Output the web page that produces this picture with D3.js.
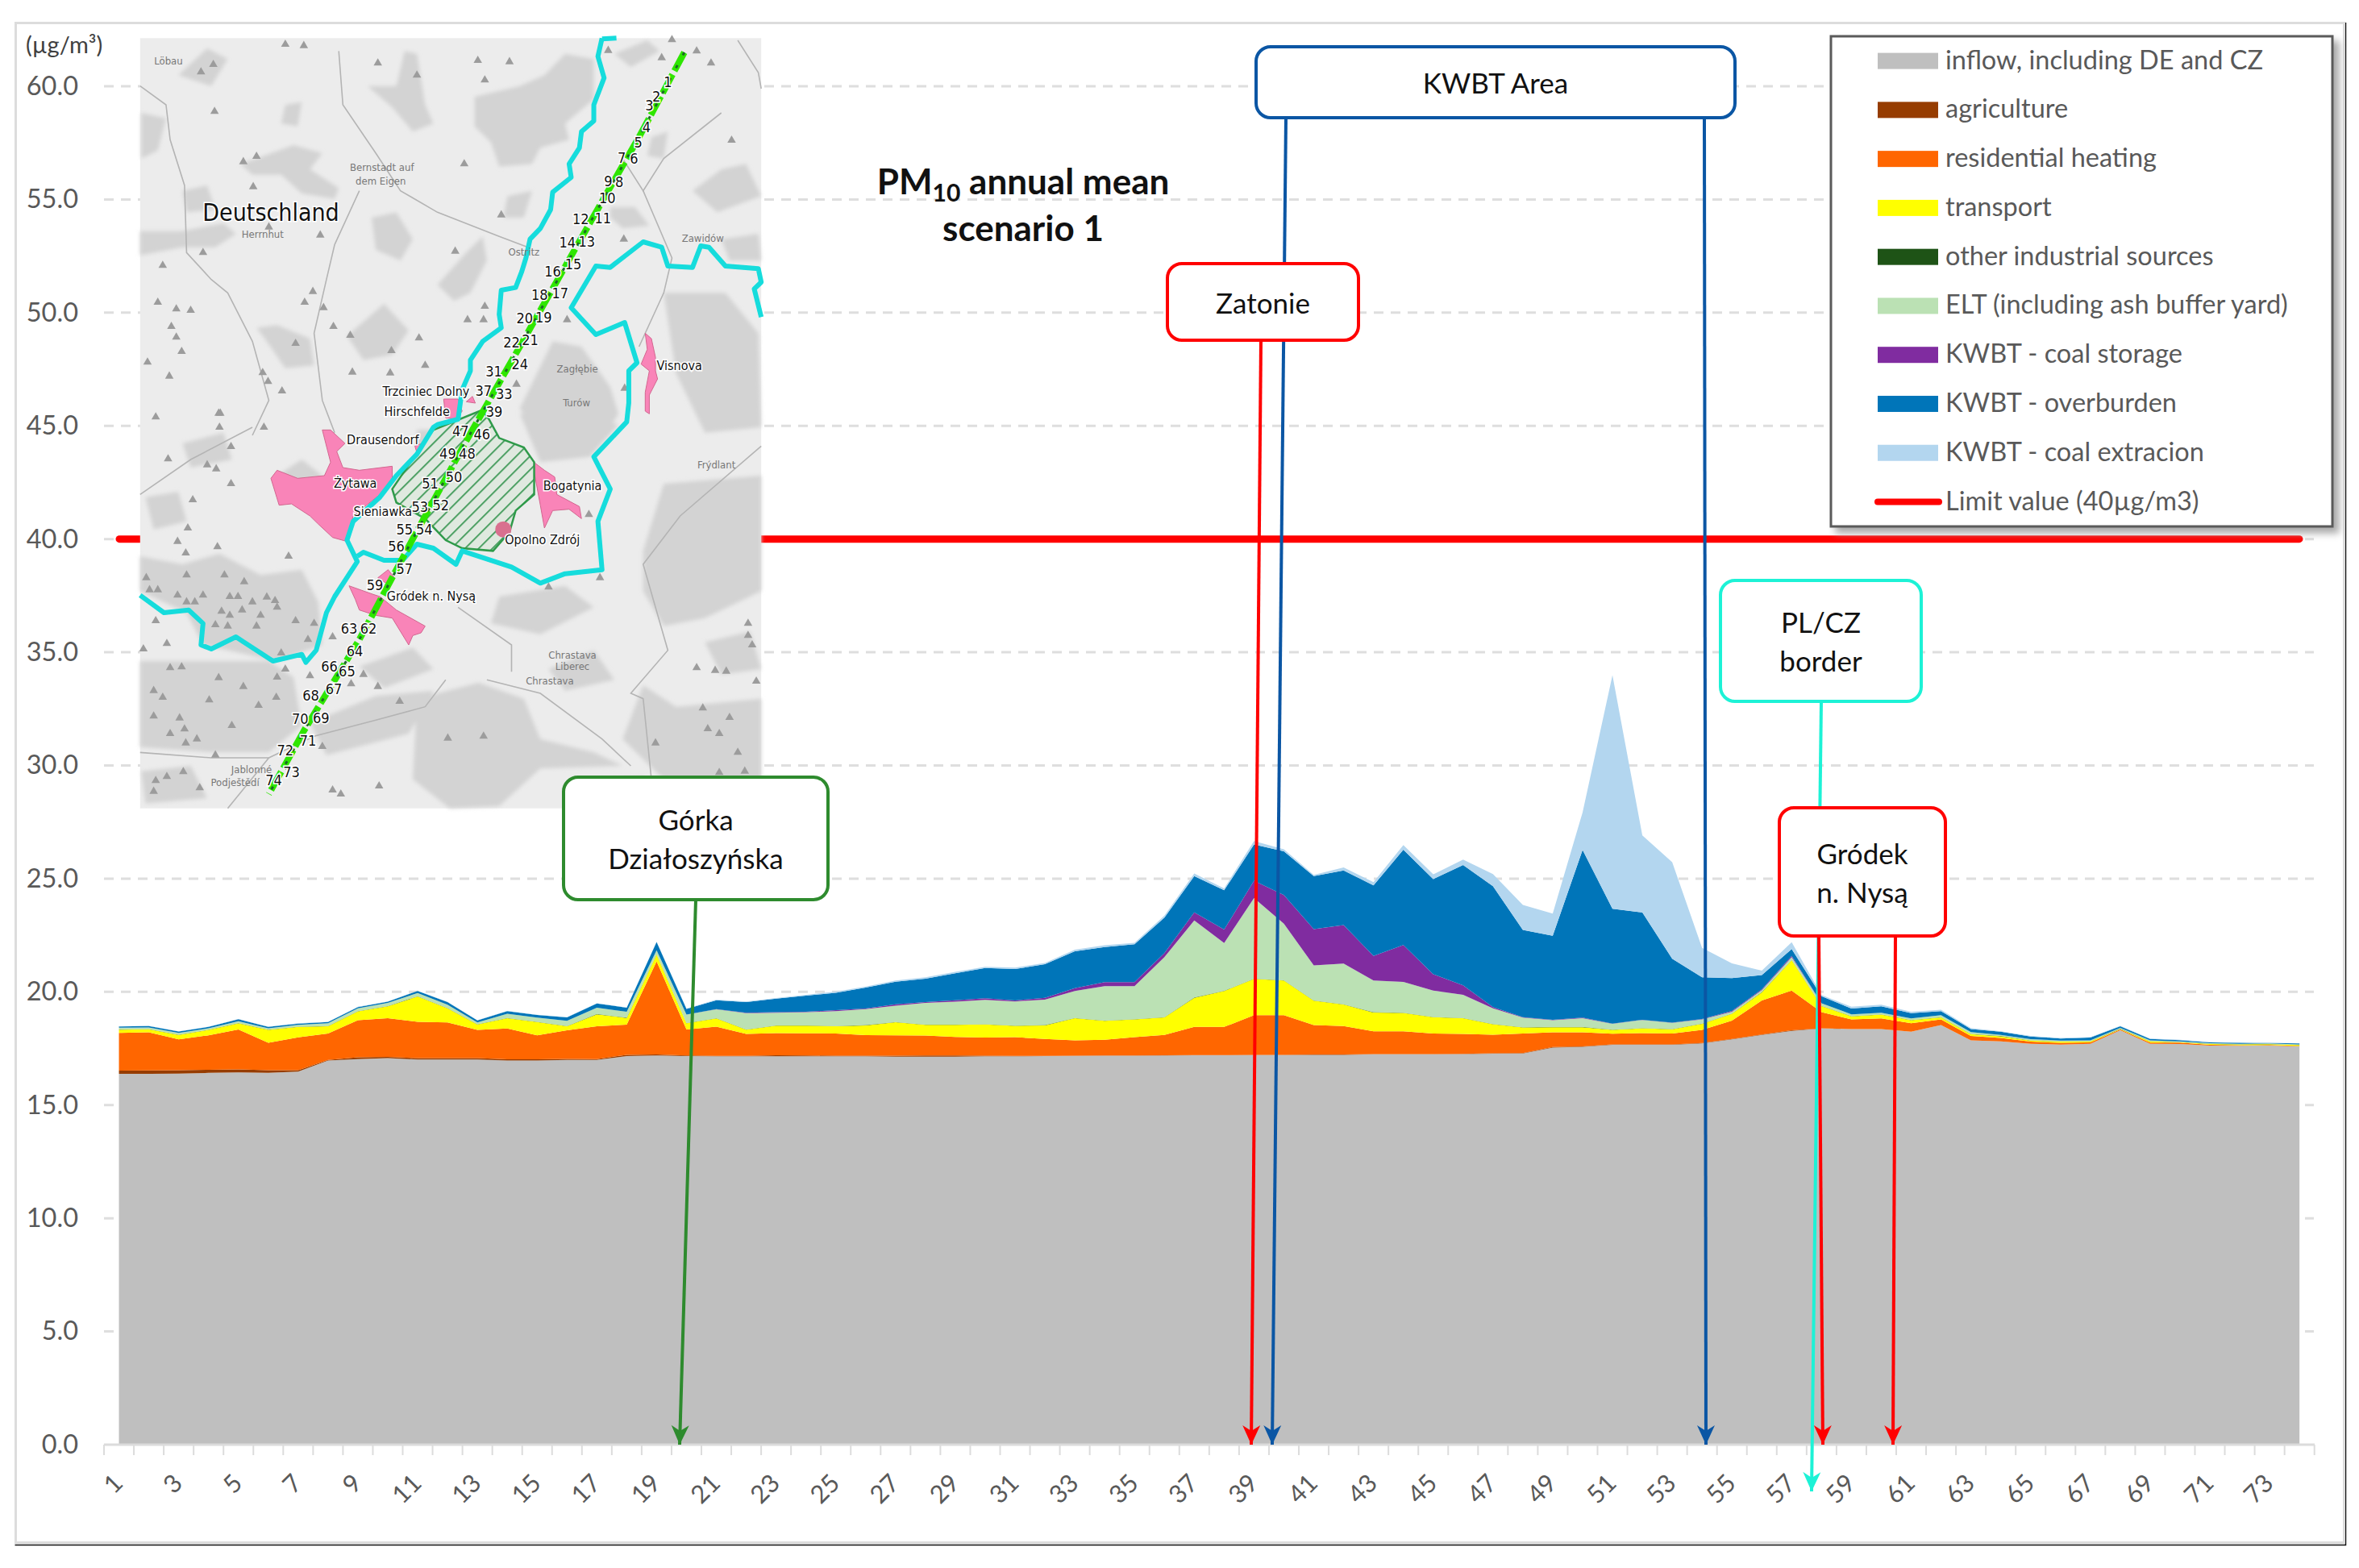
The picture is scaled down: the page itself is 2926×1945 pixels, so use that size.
<!DOCTYPE html>
<html>
<head>
<meta charset="utf-8">
<title>PM10 annual mean scenario 1</title>
<script src="https://cdnjs.cloudflare.com/ajax/libs/d3/7.8.5/d3.min.js"></script>
<style>
    html, body { margin: 0; padding: 0; background: #fff; }
    svg { display: block; }
    text { font-family: Lato, "Open Sans", sans-serif; }
    .maplabel { font-family: "DejaVu Sans Condensed", "DejaVu Sans", sans-serif; paint-order: stroke; stroke: #fff; stroke-width: 3px; text-anchor: middle; dominant-baseline: middle; fill: #111; }
    .mapfaint { font-family: "DejaVu Sans Condensed", "DejaVu Sans", sans-serif; text-anchor: middle; dominant-baseline: middle; fill: #777; font-size: 13px; }
</style>
</head>
<body>
<script>
// Receptor points along the cross section
var categories = d3.range(1, 75);

var tickLabels = [1, 3, 5, 7, 9, 11, 13, 15, 17, 19, 21, 23, 25, 27, 29, 31, 33, 35, 37,
    39, 41, 43, 45, 47, 49, 51, 53, 55, 57, 59, 61, 63, 65, 67, 69, 71, 73];

var yTicks = [0, 5, 10, 15, 20, 25, 30, 35, 40, 45, 50, 55, 60];

var inflow = [
    16.38, 16.38, 16.39, 16.42, 16.44, 16.42, 16.48, 16.97, 17.03, 17.07,
    17.01, 17.01, 17.01, 16.97, 16.97, 16.99, 16.99, 17.16, 17.19, 17.16,
    17.15, 17.15, 17.15, 17.15, 17.15, 17.15, 17.14, 17.14, 17.14, 17.15,
    17.15, 17.16, 17.17, 17.18, 17.18, 17.19, 17.20, 17.20, 17.21, 17.21,
    17.22, 17.22, 17.24, 17.24, 17.24, 17.25, 17.27, 17.28, 17.54, 17.57,
    17.66, 17.66, 17.66, 17.72, 17.90, 18.10, 18.28, 18.38, 18.36, 18.36,
    18.24, 18.53, 17.86, 17.81, 17.71, 17.67, 17.71, 18.30, 17.71, 17.70,
    17.63, 17.62, 17.63, 17.59];

var agriculture = [
    0.14, 0.15, 0.15, 0.14, 0.14, 0.12, 0.06, 0.02, 0.08, 0.06,
    0.06, 0.06, 0.06, 0.05, 0.05, 0.05, 0.04, 0.06, 0.04, 0.03,
    0.02, 0.02, 0.05, 0.04, 0.03, 0.03, 0.04, 0.05, 0.05, 0.03,
    0.02, 0.01, 0.01, 0.01, 0.01, 0.01, 0.01, 0.01, 0.01, 0.01,
    0.01, 0.01, 0.01, 0.01, 0.01, 0.01, 0.02, 0.02, 0.02, 0.02,
    0.02, 0.02, 0.02, 0.02, 0.02, 0.02, 0.02, 0.01, 0, 0,
    0, 0, 0, 0, 0, 0, 0, 0, 0, 0,
    0, 0, 0, 0];

var residential = [
    1.67, 1.68, 1.36, 1.52, 1.76, 1.21, 1.45, 1.17, 1.64, 1.71,
    1.61, 1.58, 1.25, 1.36, 1.06, 1.26, 1.45, 1.33, 4.12, 1.15,
    1.29, 0.97, 0.98, 0.98, 0.98, 0.91, 0.90, 0.88, 0.82, 0.80,
    0.83, 0.75, 0.68, 0.69, 0.81, 0.90, 1.24, 1.24, 1.75, 1.75,
    1.30, 1.26, 1.01, 1.01, 0.91, 0.88, 0.82, 0.86, 0.65, 0.62,
    0.47, 0.50, 0.48, 0.58, 0.81, 1.50, 1.76, 0.71, 0.42, 0.47,
    0.37, 0.25, 0.19, 0.15, 0.09, 0.08, 0.06, 0.04, 0.05, 0.06,
    0.03, 0.02, 0.02, 0.02];

var transport = [
    0.14, 0.14, 0.20, 0.24, 0.27, 0.57, 0.46, 0.32, 0.39, 0.52,
    1.12, 0.62, 0.24, 0.46, 0.59, 0.18, 0.53, 0.30, 0.30, 0.27,
    0.37, 0.19, 0.33, 0.34, 0.32, 0.43, 0.58, 0.47, 0.53, 0.58,
    0.50, 0.60, 0.98, 0.84, 0.78, 0.77, 1.29, 1.59, 1.60, 1.53,
    1.08, 0.95, 0.83, 0.81, 0.72, 0.70, 0.46, 0.27, 0.23, 0.23,
    0.17, 0.21, 0.19, 0.27, 0.30, 0.36, 1.34, 0.27, 0.14, 0.17,
    0.14, 0.09, 0.08, 0.08, 0.05, 0.05, 0.04, 0.02, 0.05, 0.02,
    0.04, 0.04, 0.04, 0.04];

var otherIndustrial = [
    0.01, 0.01, 0.01, 0.01, 0.01, 0.01, 0.01, 0.01, 0.01, 0.01,
    0.01, 0.01, 0.01, 0.01, 0.01, 0.01, 0.01, 0.01, 0.01, 0.01,
    0.01, 0.01, 0.01, 0.01, 0.01, 0.01, 0.01, 0.01, 0.01, 0.01,
    0.01, 0.01, 0.01, 0.01, 0.01, 0.01, 0.01, 0.01, 0.01, 0.01,
    0.01, 0.01, 0.01, 0.01, 0.01, 0.01, 0.01, 0.01, 0.01, 0.01,
    0.01, 0.01, 0.01, 0.01, 0.01, 0.01, 0.01, 0.01, 0.01, 0.01,
    0.01, 0.01, 0.01, 0.01, 0.01, 0.01, 0.01, 0.01, 0.01, 0.01,
    0.01, 0.01, 0.01, 0.01];

var elt = [
    0.08, 0.07, 0.08, 0.06, 0.08, 0.06, 0.08, 0.12, 0.12, 0.14,
    0.14, 0.15, 0.08, 0.18, 0.18, 0.23, 0.28, 0.26, 0.18, 0.38,
    0.39, 0.72, 0.56, 0.58, 0.66, 0.71, 0.72, 0.96, 1.02, 1.08,
    1.07, 1.13, 1.19, 1.52, 1.46, 2.65, 3.40, 2.11, 3.56, 2.50,
    1.55, 1.80, 1.40, 1.36, 1.17, 1.02, 0.69, 0.42, 0.30, 0.39,
    0.26, 0.36, 0.27, 0.18, 0.08, 0.08, 0.12, 0.12, 0.08, 0.07,
    0.07, 0.09, 0.08, 0.05, 0.05, 0.04, 0.04, 0.04, 0.04, 0.02,
    0.02, 0.02, 0.02, 0.02];

var coalStorage = [
    0, 0, 0, 0, 0, 0, 0, 0, 0, 0,
    0, 0, 0, 0, 0, 0, 0, 0, 0, 0,
    0.01, 0.02, 0.02, 0.02, 0.04, 0.02, 0.06, 0.04, 0.06, 0.07,
    0.04, 0.08, 0.12, 0.18, 0.18, 0.18, 0.36, 0.59, 0.77, 1.27,
    1.60, 1.70, 1.09, 1.63, 0.72, 0.42, 0.06, 0.02, 0.02, 0.02,
    0.01, 0.01, 0.01, 0.02, 0.04, 0.04, 0.06, 0, 0, 0,
    0, 0, 0, 0, 0, 0, 0, 0, 0, 0,
    0, 0, 0, 0];

var overburden = [
    0.05, 0.06, 0.06, 0.06, 0.09, 0.06, 0.06, 0.06, 0.06, 0.06,
    0.09, 0.12, 0.09, 0.12, 0.12, 0.15, 0.19, 0.18, 0.36, 0.25,
    0.39, 0.47, 0.60, 0.71, 0.77, 0.93, 1.00, 1.03, 1.19, 1.33,
    1.39, 1.48, 1.63, 1.55, 1.67, 1.57, 1.60, 1.74, 1.60, 1.93,
    2.34, 2.41, 3.11, 4.21, 4.20, 5.31, 5.34, 3.86, 3.71, 7.41,
    5.07, 4.74, 2.82, 1.84, 1.45, 0.63, 0.30, 0.31, 0.25, 0.28,
    0.23, 0.18, 0.14, 0.14, 0.12, 0.09, 0.12, 0.07, 0.06, 0.06,
    0.04, 0.04, 0.02, 0.04];

var coalExtraction = [
    0.01, 0.01, 0.01, 0.01, 0.01, 0.01, 0.01, 0.01, 0.01, 0.01,
    0.01, 0.01, 0.01, 0.01, 0.01, 0.01, 0.01, 0.01, 0.01, 0.01,
    0.03, 0.03, 0.03, 0.04, 0.05, 0.04, 0.05, 0.06, 0.06, 0.06,
    0.06, 0.06, 0.07, 0.08, 0.07, 0.09, 0.12, 0.08, 0.15, 0.09,
    0.06, 0.14, 0.15, 0.20, 0.21, 0.24, 0.53, 1.10, 0.98, 1.66,
    10.32, 3.40, 4.27, 1.30, 0.65, 0.20, 0.30, 0.05, 0.08, 0.07,
    0.06, 0.06, 0.04, 0.02, 0.02, 0.02, 0.02, 0.02, 0.02, 0.01,
    0.01, 0.01, 0.01, 0.01];

var limitValue = 40;

var seriesNames = ["inflow, including DE and CZ", "agriculture", "residential heating", "transport",
    "other industrial sources", "ELT (including ash buffer yard)", "KWBT - coal storage",
    "KWBT - overburden", "KWBT - coal extracion"];
var seriesValues = [inflow, agriculture, residential, transport, otherIndustrial, elt,
    coalStorage, overburden, coalExtraction];
var seriesColors = ["#bfbfbf", "#963c00", "#ff6600", "#ffff00", "#1e5316", "#bbe1b4",
    "#802ca0", "#0075b9", "#b3d6ef"];

// Map pieces, in the coordinates of the two map crops. low() shifts the lower crop.
function low(pts) { return pts.map(function (p) { return [p[0], p[1] + 1410].concat(p.slice(2)); }); }

var mapPatches = [
    [[950, 230], [1010, 190], [1060, 110], [1130, 130], [1130, 280], [1060, 370], [1070, 430], [1000, 460], [980, 520], [900, 530], [880, 440], [840, 380], [840, 270]],
    [[580, 230], [650, 230], [670, 100], [700, 110], [720, 300], [740, 370], [690, 400], [640, 310]],
    [[270, 520], [310, 500], [400, 450], [470, 480], [440, 540], [510, 610], [500, 650], [420, 630], [370, 560], [300, 560]],
    [[27, 770], [130, 770], [230, 740], [260, 780], [210, 830], [130, 830], [27, 860]],
    [[590, 720], [650, 700], [690, 800], [660, 880], [600, 840]],
    [[750, 970], [820, 850], [860, 790], [870, 880], [830, 1000], [790, 1030]],
    [[310, 1130], [360, 1120], [440, 1170], [450, 1270], [380, 1280], [330, 1170]],
    [[530, 1160], [620, 1040], [680, 1140], [640, 1230], [570, 1250]],
    [[1030, 1180], [1100, 1200], [1170, 1350], [1190, 1450], [1150, 1550], [1000, 1530], [950, 1430]],
    [[1300, 1000], [1450, 1000], [1530, 1150], [1537, 1500], [1400, 1520], [1330, 1300]],
    [[1170, 680], [1230, 680], [1265, 750], [1200, 760], [1170, 720]],
    [[1440, 540], [1500, 520], [1537, 640], [1430, 700], [1370, 620]],
    [[190, 90], [240, 130], [200, 230], [120, 190]],
    [[1250, 1960], [1300, 1710], [1537, 1680], [1537, 2110], [1400, 2210], [1300, 2240], [1250, 2110]],
    [[700, 2510], [850, 2450], [960, 2510], [1000, 2660], [1130, 2710], [1200, 2760], [1000, 2770], [900, 2910], [780, 2918], [690, 2810]],
    [[27, 1980], [130, 2010], [220, 1970], [320, 2050], [420, 2030], [460, 2150], [470, 2310], [360, 2370], [180, 2310], [140, 2190], [27, 2110]],
    [[27, 2370], [340, 2370], [400, 2430], [420, 2610], [340, 2710], [200, 2710], [27, 2690]],
    [[1250, 2460], [1330, 2540], [1537, 2510], [1537, 2810], [1300, 2810], [1200, 2660]],
    [[950, 1450], [1130, 1470], [1190, 1490], [1120, 1610], [1000, 1630]],
    [[440, 2600], [600, 2500], [740, 2480], [680, 2640], [480, 2720]],
    // smaller wood patches
    [[30, 330], [90, 350], [70, 470], [30, 500]],
    [[130, 620], [190, 600], [210, 690], [140, 700]],
    [[380, 300], [420, 290], [410, 380], [370, 370]],
    [[920, 640], [980, 620], [960, 720], [910, 720]],
    [[1180, 110], [1260, 60], [1290, 100], [1220, 160]],
    [[1270, 420], [1310, 400], [1300, 500], [1260, 490]],
    [[1440, 800], [1530, 780], [1537, 880], [1460, 880]],
    [[130, 1560], [230, 1520], [250, 1620], [150, 1650]],
    [[360, 1680], [420, 1620], [470, 1680], [420, 1740]],
    [[700, 1510], [790, 1510], [760, 1600], [700, 1580]],
    [[40, 1760], [120, 1740], [140, 1850], [60, 1880]],
    [[900, 2130], [1060, 2090], [1130, 2170], [1000, 2270], [880, 2230]],
    [[1020, 2400], [1130, 2330], [1180, 2440], [1060, 2480]],
    [[560, 2390], [690, 2320], [740, 2400], [620, 2470]],
    [[1400, 2300], [1510, 2260], [1537, 2400], [1440, 2420]],
    [[1100, 2820], [1250, 2800], [1300, 2918], [1120, 2918]],
    [[30, 2780], [150, 2760], [190, 2880], [40, 2900]]
];

var mapRoads = [
    [[27, 230], [90, 300], [100, 430], [135, 600], [140, 850], [200, 950], [240, 1000], [300, 1180], [340, 1400], [300, 1530]],
    [[510, 100], [520, 300], [600, 480], [660, 620], [750, 700], [900, 790], [970, 830]],
    [[560, 620], [500, 820], [480, 950], [450, 1150], [470, 1400], [500, 1520]],
    [[1480, 60], [1530, 180], [1537, 240]],
    [[1537, 1570], [1340, 1830], [1250, 2010], [1310, 2330], [1220, 2490], [1250, 2510], [1270, 2810]],
    [[1440, 330], [1300, 500], [1250, 620], [1200, 500]],
    [[1250, 620], [1320, 870], [1300, 1000], [1240, 1200]],
    [[870, 2440], [1000, 2490], [1150, 2660], [1220, 2760]],
    [[770, 2440], [720, 2540], [600, 2590], [450, 2650], [340, 2730]],
    [[27, 2710], [200, 2730], [340, 2730], [240, 2918]],
    [[800, 2170], [930, 2310], [930, 2410]],
    [[27, 1750], [150, 1620], [300, 1500]]
];

var mapTriangles = [
    [380, 75], [425, 80], [205, 150], [175, 178], [605, 145], [848, 135], [925, 140], [700, 190], [865, 208], [1165, 98],
    [1295, 125], [1380, 100], [1415, 145], [1320, 58], [1465, 432], [208, 325], [310, 492], [278, 512], [302, 605], [815, 520],
    [905, 710], [180, 850], [82, 898], [340, 755], [465, 785], [793, 845], [1203, 800], [447, 995], [427, 1035], [70, 1035],
    [115, 1060], [150, 1065], [473, 1055], [865, 1050], [823, 1100], [862, 1100], [1065, 1100], [103, 1125], [115, 1165], [128, 1218],
    [497, 1125], [538, 1158], [638, 1215], [705, 1168], [405, 1188], [45, 1258], [720, 1270], [325, 1297], [338, 1330], [372, 1365],
    [98, 1310], [543, 1295], [635, 1298], [942, 1340], [1205, 1355], [222, 1448], [65, 1462], [220, 1500], [328, 1500]
].concat(low([
    [218, 38], [248, 162], [95, 208], [190, 230], [212, 245], [248, 300], [155, 360], [143, 465], [118, 515], [215, 535],
    [138, 558], [388, 570], [232, 640], [42, 650], [140, 640], [280, 665], [50, 695], [70, 695], [180, 715], [118, 715],
    [140, 740], [160, 740], [245, 720], [265, 720], [300, 740], [335, 722], [355, 735], [225, 775], [245, 790], [275, 770],
    [360, 760], [320, 790], [405, 810], [450, 820], [210, 825], [240, 830], [310, 830], [65, 810], [495, 870], [435, 880],
    [92, 895], [35, 915], [370, 930], [100, 985], [128, 982], [218, 1022], [278, 1055], [360, 1020], [380, 990], [440, 1015],
    [570, 1010], [60, 1070], [82, 1095], [195, 1105], [315, 1125], [358, 1095], [540, 1045], [605, 1055], [658, 1110], [60, 1165],
    [123, 1172], [250, 1200], [135, 1213], [100, 1230], [165, 1250], [138, 1265], [470, 1278], [210, 1310], [92, 1390], [132, 1372],
    [65, 1405], [60, 1445], [172, 1432], [608, 1425], [495, 1440], [515, 1455], [775, 1247], [862, 1240], [1020, 685], [1145, 650],
    [1118, 415], [1280, 1265], [1380, 985], [1425, 995], [1452, 998], [1525, 1035], [1505, 820], [1505, 865], [1515, 900], [1395, 1135],
    [1460, 1170], [1407, 1212], [1435, 1230], [1480, 1300], [1435, 1375], [1497, 1370]
]));

var mapTowns = [
    low([[345, 280], [360, 250], [410, 280], [475, 270], [490, 220], [470, 100], [490, 100], [525, 150], [505, 180], [520, 240], [560, 250], [640, 235], [640, 280], [610, 340], [545, 420], [530, 515], [495, 500], [460, 450], [440, 420], [395, 375], [365, 380]]),
    low([[980, 215], [1010, 250], [1035, 275], [1040, 340], [1095, 385], [1100, 430], [1070, 395], [1030, 400], [1010, 465], [1000, 380]]),
    low([[535, 680], [590, 710], [610, 720], [650, 770], [720, 830], [710, 855], [690, 865], [680, 900], [640, 800], [600, 790], [560, 770], [550, 730]]),
    low([[605, 650], [630, 620], [645, 650], [625, 670]]),
    [[765, 1395], [800, 1395], [810, 1440], [795, 1470], [770, 1465]],
    [[820, 1405], [835, 1385], [842, 1410]],
    low([[695, 160], [712, 150], [715, 185], [700, 185]]),
    [[1255, 1150], [1270, 1170], [1280, 1240], [1280, 1290], [1285, 1320], [1265, 1380], [1265, 1450], [1255, 1440], [1255, 1370], [1265, 1290], [1245, 1265], [1260, 1210]]
];

var mapMine = low([[860, 25], [875, 60], [900, 130], [960, 165], [985, 220], [985, 340], [940, 400], [925, 480], [885, 550], [810, 540], [770, 510], [720, 430], [650, 370], [640, 320], [680, 230], [740, 100]]);

var mapBorderWest = [[1150, 52], [1140, 120], [1155, 200], [1130, 300], [1130, 360], [1100, 400], [1095, 460], [1070, 520], [1075, 570], [1030, 625], [1025, 690], [1000, 760], [975, 800], [965, 870], [955, 920], [940, 980], [905, 990], [900, 1080], [905, 1130], [860, 1180], [830, 1250], [830, 1290], [810, 1360], [800, 1470], [750, 1490]].concat(low([[740, 90], [700, 190], [650, 270], [610, 350], [545, 440], [530, 510], [555, 590], [500, 720], [480, 780], [455, 920], [430, 965], [420, 935], [350, 960], [320, 930], [280, 890], [260, 870], [200, 915], [175, 900], [180, 820], [145, 770], [85, 780], [27, 715]]));
var mapBorderEast = low([[555, 570], [570, 555], [620, 585], [665, 585], [700, 525], [740, 540], [795, 600], [810, 550], [930, 610], [1000, 670], [1060, 635], [1150, 620], [1140, 440], [1170, 320], [1130, 200], [1210, 70], [1215, 0]]).concat([[1215, 1290], [1235, 1260], [1205, 1110], [1135, 1155], [1075, 1055], [1135, 900], [1170, 905], [1250, 810], [1295, 830], [1310, 900], [1370, 905], [1390, 825], [1410, 830], [1450, 900], [1530, 910], [1537, 960], [1520, 985], [1537, 1090]]);
var mapBorderHook = [[1150, 55], [1185, 52]];

var mapSection = [[1350, 105], [1240, 420], [1150, 660], [950, 1200], [820, 1550]].concat(low([[690, 505], [560, 880], [425, 1220], [340, 1455]]));

var mapNumbers = [
    ["1", 1310, 220], ["2", 1282, 272], ["3", 1265, 305], ["4", 1258, 388], ["5", 1238, 445], ["7", 1198, 500], ["6", 1228, 503],
    ["9", 1165, 588], ["8", 1192, 590], ["10", 1163, 650], ["12", 1098, 728], ["11", 1152, 725], ["14", 1066, 815], ["13", 1113, 812],
    ["15", 1080, 898], ["16", 1030, 925], ["18", 998, 1010], ["17", 1048, 1005], ["20", 962, 1097], ["19", 1008, 1095], ["22", 930, 1188],
    ["21", 975, 1180], ["24", 950, 1270], ["31", 887, 1297], ["37", 862, 1367], ["33", 912, 1380], ["39", 888, 1445],
    ["47", 806, 1518], ["46", 858, 1530], ["49", 775, 1603], ["48", 822, 1602], ["50", 790, 1688], ["51", 732, 1712], ["53", 707, 1800], ["52", 758, 1795],
    ["55", 670, 1885], ["54", 718, 1883], ["56", 650, 1948], ["57", 670, 2030], ["59", 598, 2090], ["63", 535, 2253], ["62", 582, 2252], ["64", 549, 2337],
    ["66", 487, 2393], ["65", 530, 2413], ["67", 498, 2478], ["68", 442, 2503], ["70", 416, 2590], ["69", 467, 2585], ["71", 435, 2670],
    ["72", 380, 2705], ["73", 395, 2787], ["74", 352, 2818]
];

var mapPlaces = [
    ["Trzciniec Dolny", 722, 1368], ["Hirschfelde", 700, 1443], ["Visnova", 1338, 1272],
    ["Drausendorf", 617, 1550], ["Żytawa", 550, 1710], ["Bogatynia", 1078, 1720],
    ["Sieniawka", 617, 1815], ["Opolno Zdrój", 1005, 1920], ["Gródek n. Nysą", 735, 2130]
];

var mapFaint = [
    ["Löbau", 96, 138], ["Bernstadt auf", 615, 535], ["dem Eigen", 612, 585], ["Herrnhut", 325, 785],
    ["Ostritz", 960, 850], ["Zawidów", 1395, 800], ["Frýdlant", 1428, 1643], ["Chrastava", 1023, 2445],
    ["Chrastava", 1078, 2350], ["Liberec", 1078, 2392], ["Jablonné", 298, 2775], ["Podještědí", 258, 2823],
    ["Zagłębie", 1090, 1285], ["Turów", 1088, 1410]
];

// Callout boxes and their arrows
var calloutNames = [["KWBT Area"], ["Zatonie"], ["Górka", "Działoszyńska"], ["PL/CZ", "border"], ["Gródek", "n. Nysą"]];
var calloutColors = ["#0b56a4", "#ff0000", "#2e8b2e", "#1df2d6", "#ff0000"];
var calloutBoxes = [[1558, 58, 2152, 146], [1448, 327, 1685, 422], [699, 964, 1027, 1116], [2134, 720, 2383, 870], [2207, 1002, 2413, 1161]];
var calloutDraw = [3, 0, 2, 1, 4]; // paint order: cyan first, so the red box sits on top

var arrowLines = [
    { color: "#1df2d6", from: [2259, 870], to: [2247, 1850] },
    { color: "#2e8b2e", from: [863, 1116], to: [843, 1792] },
    { color: "#ff0000", from: [1564, 422], to: [1552, 1792] },
    { color: "#0b56a4", from: [1595, 146], to: [1578, 1792] },
    { color: "#0b56a4", from: [2114, 146], to: [2116, 1792] },
    { color: "#ff0000", from: [2256, 1161], to: [2261, 1792] },
    { color: "#ff0000", from: [2351, 1161], to: [2348, 1792] }
];

var width = 2926, height = 1945;

var svg = d3.select("body").append("svg")
    .attr("width", width)
    .attr("height", height);

var defs = svg.append("defs");

defs.append("filter").attr("id", "soft")
    .append("feGaussianBlur").attr("stdDeviation", 2.6);
defs.append("filter").attr("id", "softer")
    .append("feGaussianBlur").attr("stdDeviation", 0.5);

var hatch = defs.append("pattern")
    .attr("id", "hatch")
    .attr("patternUnits", "userSpaceOnUse")
    .attr("width", 12)
    .attr("height", 12)
    .attr("patternTransform", "rotate(45)");
hatch.append("rect").attr("width", 12).attr("height", 12).attr("fill", "#dfe9df");
hatch.append("rect").attr("width", 1.8).attr("height", 12).attr("fill", "#3f9a58");

// Frame of the chart
svg.append("path")
    .attr("d", "M18.5,1916.5H2909.5V28")
    .attr("fill", "none")
    .attr("stroke", "#111")
    .attr("stroke-width", 1.5);
svg.append("rect")
    .attr("x", 19.5).attr("y", 28.5)
    .attr("width", 2888).attr("height", 1885)
    .attr("fill", "#fff")
    .attr("stroke", "#dcdcdc")
    .attr("stroke-width", 3);

var x = d3.scaleBand().domain(categories).range([129, 2870.7]);
var xMid = function (d) { return x(d) + x.bandwidth() / 2; };
var y = d3.scaleLinear().domain([0, 60]).range([1792, 107]);

// Gridlines
svg.append("g").selectAll("line")
    .data(yTicks.slice(1))
    .join("line")
    .attr("x1", 129)
    .attr("x2", 2870)
    .attr("y1", function (d) { return y(d); })
    .attr("y2", function (d) { return y(d); })
    .attr("stroke", "#dedede")
    .attr("stroke-width", 3)
    .attr("stroke-dasharray", "12,9");

// Stacked areas
var rows = categories.map(function (c, i) {
    var row = { point: c };
    seriesNames.forEach(function (name, s) { row[name] = seriesValues[s][i]; });
    return row;
});
var layers = d3.stack().keys(seriesNames)(rows);
var area = d3.area()
    .x(function (d) { return xMid(d.data.point); })
    .y0(function (d) { return y(d[0]); })
    .y1(function (d) { return y(d[1]); });

svg.append("g").selectAll("path")
    .data(layers)
    .join("path")
    .attr("d", area)
    .attr("fill", function (d, i) { return seriesColors[i]; });

// Limit value
svg.append("line")
    .attr("x1", 148)
    .attr("x2", 2852)
    .attr("y1", y(limitValue))
    .attr("y2", y(limitValue))
    .attr("stroke", "#ff0000")
    .attr("stroke-width", 9)
    .attr("stroke-linecap", "round");

// Axes
var axisLeft = d3.axisLeft(y).tickValues(yTicks).tickSize(0).tickPadding(0).tickFormat(d3.format(".1f"));
var gy = svg.append("g").attr("transform", "translate(97,0)").call(axisLeft);
gy.select(".domain").remove();
gy.selectAll("text")
    .attr("font-size", 32.5)
    .attr("fill", "#595959")
    .style("font-family", "Lato, sans-serif");

svg.append("line")
    .attr("x1", 129).attr("x2", 2871)
    .attr("y1", 1792).attr("y2", 1792)
    .attr("stroke", "#dcdcdc").attr("stroke-width", 3);

svg.append("g").selectAll("line")
    .data(categories.concat(["end"]))
    .join("line")
    .attr("x1", function (d) { return d === "end" ? 2870.7 : x(d); })
    .attr("x2", function (d) { return d === "end" ? 2870.7 : x(d); })
    .attr("y1", 1792)
    .attr("y2", 1805)
    .attr("stroke", "#dcdcdc")
    .attr("stroke-width", 2);

var axisBottom = d3.axisBottom(x).tickValues(tickLabels).tickSize(0);
var gx = svg.append("g").attr("transform", "translate(0,1792)").call(axisBottom);
gx.select(".domain").remove();
gx.selectAll("text")
    .attr("font-size", 31)
    .attr("fill", "#595959")
    .style("font-family", "Lato, sans-serif")
    .attr("text-anchor", "end")
    .attr("dy", "0.35em")
    .attr("transform", "translate(-1,42) rotate(-45)")
    .attr("y", 0)
    .attr("x", 0);

svg.append("text")
    .attr("x", 32).attr("y", 66)
    .attr("font-size", 29)
    .attr("fill", "#404040")
    .text("(µg/m³)");

// Map inset
var mapX = d3.scaleLinear().domain([0, 1568]).range([160, 960]);
var mapY = d3.scaleLinear().domain([0, 3]).range([30, 31]);
var mapLine = d3.line().x(function (d) { return mapX(d[0]); }).y(function (d) { return mapY(d[1]); });
var mapClosed = function (d) { return mapLine(d) + "Z"; };

var map = svg.append("g");
map.append("rect")
    .attr("x", mapX(27)).attr("y", mapY(52))
    .attr("width", mapX(1537) - mapX(27))
    .attr("height", mapY(2918) - mapY(52))
    .attr("fill", "#ececec");

map.append("g").attr("filter", "url(#soft)").selectAll("path")
    .data(mapPatches)
    .join("path")
    .attr("d", mapClosed)
    .attr("fill", "#d3d3d3");

map.append("g").attr("filter", "url(#softer)").selectAll("path")
    .data(mapRoads)
    .join("path")
    .attr("d", mapLine)
    .attr("fill", "none")
    .attr("stroke", "#b4b4b4")
    .attr("stroke-width", 1.6);

map.append("g").selectAll("path")
    .data(mapTriangles)
    .join("path")
    .attr("d", d3.symbol(d3.symbolTriangle, 48))
    .attr("transform", function (d) { return "translate(" + mapX(d[0]) + "," + mapY(d[1]) + ")"; })
    .attr("fill", "#9c9c9c");

var mapShapes = map.append("g").attr("filter", "url(#softer)");
mapShapes.selectAll("path.town")
    .data(mapTowns)
    .join("path")
    .attr("class", "town")
    .attr("d", mapClosed)
    .attr("fill", "#f984b8")
    .attr("stroke", "#d2668f");

mapShapes.append("path")
    .attr("d", mapClosed(mapMine))
    .attr("fill", "url(#hatch)")
    .attr("stroke", "#2f9a4a")
    .attr("stroke-width", 2.5);

mapShapes.append("ellipse")
    .attr("cx", mapX(910)).attr("cy", mapY(1880))
    .attr("rx", 10).attr("ry", 10)
    .attr("fill", "#d9708f");

mapShapes.selectAll("path.border")
    .data([mapBorderWest, mapBorderEast, mapBorderHook])
    .join("path")
    .attr("class", "border")
    .attr("d", mapLine)
    .attr("fill", "none")
    .attr("stroke", "#14dcdc")
    .attr("stroke-width", 6)
    .attr("stroke-linejoin", "round");

mapShapes.append("path")
    .attr("d", mapLine(mapSection))
    .attr("fill", "none")
    .attr("stroke", "#2fe600")
    .attr("stroke-width", 8)
    .attr("stroke-dasharray", "26,5");
mapShapes.append("path")
    .attr("d", mapLine(mapSection))
    .attr("fill", "none")
    .attr("stroke", "#1d6b28")
    .attr("stroke-width", 3)
    .attr("stroke-dasharray", "4,14");

map.append("g").selectAll("text")
    .data(mapFaint)
    .join("text")
    .attr("class", "mapfaint")
    .attr("x", function (d) { return mapX(d[1]); })
    .attr("y", function (d) { return mapY(d[2]); })
    .text(function (d) { return d[0]; });

map.append("g").selectAll("text")
    .data(mapNumbers)
    .join("text")
    .attr("class", "maplabel")
    .attr("x", function (d) { return mapX(d[1]); })
    .attr("y", function (d) { return mapY(d[2]); })
    .attr("font-size", 18)
    .text(function (d) { return d[0]; });

map.append("g").selectAll("text")
    .data(mapPlaces)
    .join("text")
    .attr("class", "maplabel")
    .attr("x", function (d) { return mapX(d[1]); })
    .attr("y", function (d) { return mapY(d[2]); })
    .attr("font-size", 16)
    .text(function (d) { return d[0]; });

map.append("text")
    .attr("class", "maplabel")
    .attr("x", mapX(345)).attr("y", mapY(705))
    .attr("font-size", 30)
    .text("Deutschland");

// Title
var title = svg.append("g").attr("font-weight", 700).attr("fill", "#111").attr("text-anchor", "middle").attr("font-size", 44);
var t1 = title.append("text").attr("x", 1269).attr("y", 241);
t1.append("tspan").text("PM");
t1.append("tspan").attr("font-size", 30).attr("dy", 9).text("10");
t1.append("tspan").attr("dy", -9).text(" annual mean");
title.append("text").attr("x", 1269).attr("y", 299).text("scenario 1");

// Arrows
var arrowHead = function (a) {
    var ang = Math.atan2(a.to[1] - a.from[1], a.to[0] - a.from[0]);
    var ca = Math.cos(ang), sa = Math.sin(ang);
    var at = function (l, w) { return [a.to[0] + l * ca - w * sa, a.to[1] + l * sa + w * ca].join(","); };
    return "M" + at(0, 0) + "L" + at(-24, 11) + "L" + at(-17, 0) + "L" + at(-24, -11) + "Z";
};

var arrows = svg.append("g");
arrows.selectAll("line")
    .data(arrowLines)
    .join("line")
    .attr("x1", function (d) { return d.from[0]; })
    .attr("y1", function (d) { return d.from[1]; })
    .attr("x2", function (d) { return d.to[0]; })
    .attr("y2", function (d) { return d.to[1]; })
    .attr("stroke", function (d) { return d.color; })
    .attr("stroke-width", 4);
arrows.selectAll("path")
    .data(arrowLines)
    .join("path")
    .attr("d", arrowHead)
    .attr("fill", function (d) { return d.color; });

// Callouts
var callouts = svg.append("g").selectAll("g")
    .data(calloutDraw)
    .join("g");
callouts.append("rect")
    .attr("x", function (i) { return calloutBoxes[i][0]; })
    .attr("y", function (i) { return calloutBoxes[i][1]; })
    .attr("width", function (i) { return calloutBoxes[i][2] - calloutBoxes[i][0]; })
    .attr("height", function (i) { return calloutBoxes[i][3] - calloutBoxes[i][1]; })
    .attr("rx", 18)
    .attr("fill", "#fff")
    .attr("stroke", function (i) { return calloutColors[i]; })
    .attr("stroke-width", 4);
callouts.each(function (i) {
    var box = calloutBoxes[i], names = calloutNames[i];
    var mid = (box[1] + box[3]) / 2;
    d3.select(this).selectAll("text")
        .data(names)
        .join("text")
        .attr("x", (box[0] + box[2]) / 2)
        .attr("y", function (d, j) { return mid + 14 + (j - (names.length - 1) / 2) * 48; })
        .attr("text-anchor", "middle")
        .attr("font-size", 35)
        .attr("fill", "#111")
        .text(function (d) { return d; });
});

// Legend
var legend = svg.append("g");
legend.append("rect")
    .attr("x", 2271).attr("y", 45)
    .attr("width", 622).attr("height", 608)
    .attr("fill", "#fff")
    .attr("stroke", "#5a5a5a")
    .attr("stroke-width", 3)
    .style("filter", "drop-shadow(7px 7px 5px #a8a8a8)");

var legendY = d3.scalePoint().domain(d3.range(10)).range([75.6, 622.5]);

legend.append("g").selectAll("rect")
    .data(seriesNames)
    .join("rect")
    .attr("x", 2329)
    .attr("y", function (d, i) { return legendY(i) - 10; })
    .attr("width", 75)
    .attr("height", 20)
    .attr("fill", function (d, i) { return seriesColors[i]; });

legend.append("line")
    .attr("x1", 2329).attr("x2", 2405)
    .attr("y1", legendY(9)).attr("y2", legendY(9))
    .attr("stroke", "#ff0000")
    .attr("stroke-width", 8)
    .attr("stroke-linecap", "round");

legend.append("g").selectAll("text")
    .data(seriesNames.concat(["Limit value (40µg/m3)"]))
    .join("text")
    .attr("x", 2413)
    .attr("y", function (d, i) { return legendY(i) + 10; })
    .attr("font-size", 32.5)
    .attr("fill", "#595959")
    .text(function (d) { return d; });
</script>
</body>
</html>
